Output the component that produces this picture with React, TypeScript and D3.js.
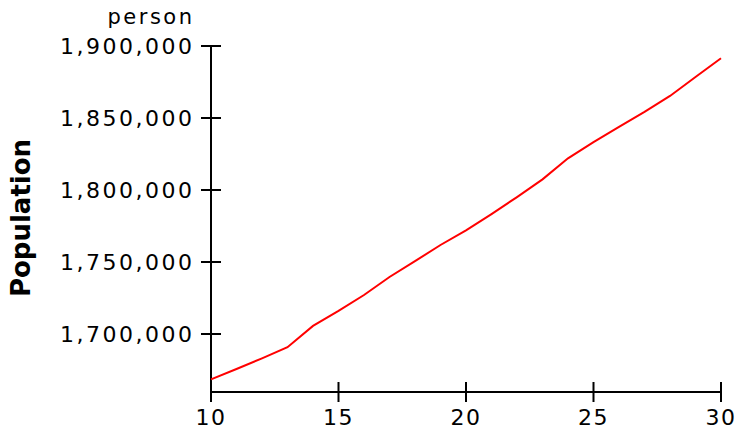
import React from "react";
import * as d3 from "d3";

const years = [10, 11, 12, 13, 14, 15, 16, 17, 18, 19, 20, 21, 22, 23, 24, 25, 26, 27, 28, 29, 30];
const population = [
  1668500, 1675700, 1683100, 1690800, 1705600, 1716000, 1727100, 1739600, 1750600, 1761800,
  1772000, 1783300, 1795100, 1807400, 1822000, 1833300, 1843800, 1854200, 1865300, 1878500, 1891500,
];
const xTicks = [10, 15, 20, 25, 30];
const yTicks = [1700000, 1750000, 1800000, 1850000, 1900000];
const yUnit = "person";
const yTitle = "Population";

export default function App() {
  const W = 737, H = 432;
  const x = d3.scaleLinear().domain([10, 30]).range([211, 721]);
  const y = d3.scaleLinear().domain([1659722, 1900000]).range([392, 46]);
  const line = d3
    .line<number>()
    .x((_, i) => x(years[i]))
    .y((d) => y(d));
  const fmt = d3.format(",");
  const font = "'DejaVu Sans', Verdana, sans-serif";
  const ls = 2.5;
  return (
    <svg
      width={W}
      height={H}
      style={{ position: "absolute", left: 0, top: 0, background: "#fff" }}
      fontFamily={font}
    >
      <line x1={x(10)} x2={x(30)} y1={392} y2={392} stroke="#000" strokeWidth={2} />
      <line x1={211} x2={211} y1={y(1900000)} y2={392} stroke="#000" strokeWidth={2} />
      {xTicks.map((t) => (
        <g key={t}>
          <line x1={x(t)} x2={x(t)} y1={382} y2={402} stroke="#000" strokeWidth={2} />
          <text x={x(t)} y={425} textAnchor="middle" fontSize={22} letterSpacing={1.5} fill="#000">
            {t}
          </text>
        </g>
      ))}
      {yTicks.map((t) => (
        <g key={t}>
          <line x1={201} x2={221} y1={y(t)} y2={y(t)} stroke="#000" strokeWidth={2} />
          <text x={192 + ls} y={y(t) + 8} textAnchor="end" fontSize={22} letterSpacing={ls} fill="#000">
            {fmt(t)}
          </text>
        </g>
      ))}
      <text x={192 + ls} y={24} textAnchor="end" fontSize={21} letterSpacing={ls} fill="#000">
        {yUnit}
      </text>
      <text
        transform="translate(30,218) rotate(-90)"
        textAnchor="middle"
        fontSize={26}
        fontWeight="bold"
        fill="#000"
      >
        {yTitle}
      </text>
      <path d={line(population) || ""} fill="none" stroke="#ff0000" strokeWidth={2} />
    </svg>
  );
}
